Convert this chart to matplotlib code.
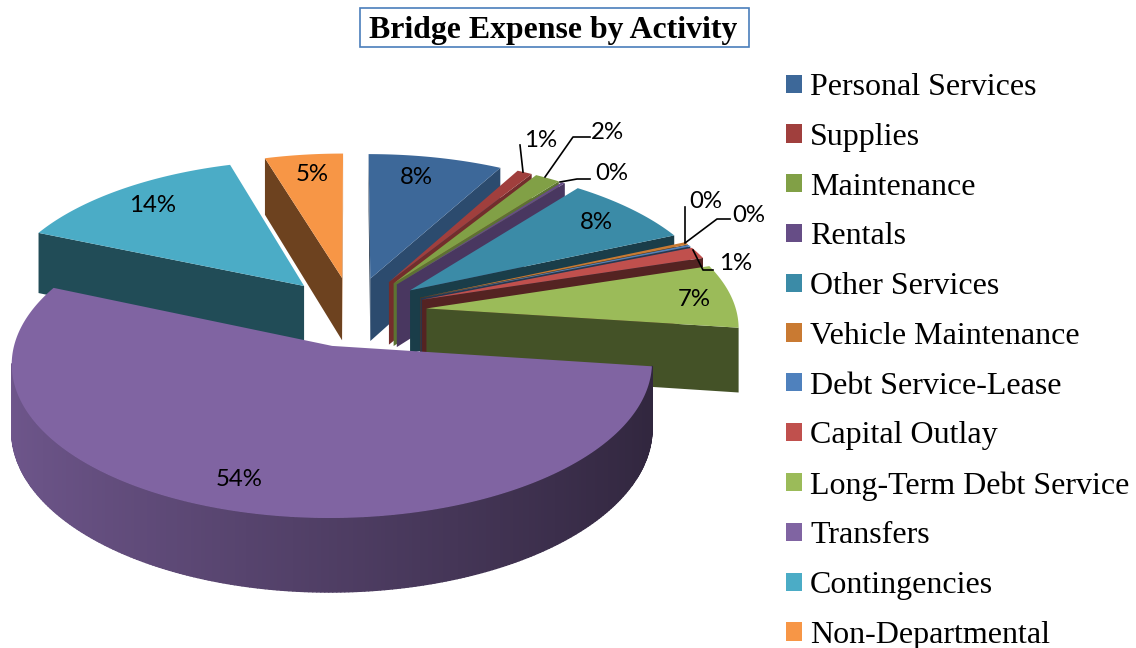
import numpy as np
import matplotlib
matplotlib.use("Agg")
import matplotlib.pyplot as plt
from matplotlib.collections import PolyCollection
from matplotlib.colors import to_rgb
from matplotlib.patches import Patch, Polygon, Rectangle

# Expense share per activity (percent)
activities = [
    "Personal Services", "Supplies", "Maintenance", "Rentals", "Other Services",
    "Vehicle Maintenance", "Debt Service-Lease", "Capital Outlay",
    "Long-Term Debt Service", "Transfers", "Contingencies", "Non-Departmental",
]
shares = [7.9, 0.9, 1.5, 0.2, 7.8, 0.3, 0.2, 1.3, 7.0, 54.4, 13.9, 4.6]
colors = [
    "#3d6899", "#a03f3d", "#81a046", "#664d86", "#3b8ba7", "#c97a32",
    "#4f81bd", "#c0504d", "#9bbb59", "#8064a2", "#4bacc6", "#f79646",
]

# Label centres and leader lines, in figure pixels
label_xy = [
    (416, 177.5), (541, 140.5), (607, 132.5), (612, 173.5), (596, 222.5), (706, 201),
    (748.5, 215.5), (736, 264), (694, 299.5), (239, 480), (153, 205.5), (312, 174.5),
]
leaders = [
    [(520, 145), (523, 172)],
    [(590, 137), (573, 137), (545, 177)],
    [(590, 179), (577, 179), (560, 182)],
    [(685, 207), (685, 242)],
    [(730, 219), (717, 219), (685, 243)],
    [(713, 270), (703, 270), (693, 250)],
]

# Projection of the tilted pie onto the page
CX, CY = 352.5, 311.5
RX, RY = 310, 145
PERSP = 0.11
DEPTH = 64
EXPLODE = 0.24


def project(x, y, z=0.0):
    s = 1 / (1 + PERSP * y)
    return CX + RX * x * s, CY - RY * y * s + DEPTH * z * s


def shaded(color, factor):
    return tuple(c * factor for c in to_rgb(color))


def wall_factor(nx):
    return 0.72 if nx > 0.6 else 0.44


fig = plt.figure(figsize=(11.36, 6.48), dpi=100)
ax = fig.add_axes([0, 0, 1, 1])
ax.set_xlim(0, 1136)
ax.set_ylim(648, 0)
ax.axis("off")

total = sum(shares)
edges = 2 * np.pi * np.concatenate([[0], np.cumsum(shares)]) / total
mids = (edges[:-1] + edges[1:]) / 2

# Painter's order: slices at the back first
for i in sorted(range(len(shares)), key=lambda k: -np.cos(mids[k])):
    t0, t1, col = edges[i], edges[i + 1], colors[i]
    ox, oy = EXPLODE * np.sin(mids[i]), EXPLODE * np.cos(mids[i])
    th = np.linspace(t0, t1, max(3, int((t1 - t0) * 90)))
    rx, ry = ox + np.sin(th), oy + np.cos(th)
    view_y = -1 / PERSP

    # flat walls along the two cut edges
    for t, nx, ny in [
        (t0, -np.cos(t0), np.sin(t0)),
        (t1, np.cos(t1), -np.sin(t1)),
    ]:
        ex, ey = ox + np.sin(t), oy + np.cos(t)
        if nx * (0 - ex) + ny * (view_y - ey) > 0:
            quad = [project(ox, oy), project(ex, ey), project(ex, ey, 1), project(ox, oy, 1)]
            ax.add_patch(Polygon(quad, closed=True, fc=shaded(col, wall_factor(nx)), ec="none"))

    # rim, split in strips so the shade can run along it
    strips, strip_cols = [], []
    for j in range(len(th) - 1):
        tm = (th[j] + th[j + 1]) / 2
        nx, ny = np.sin(tm), np.cos(tm)
        if nx * (0 - (ox + nx)) + ny * (view_y - (oy + ny)) <= 0:
            continue
        strips.append([
            project(rx[j], ry[j]), project(rx[j + 1], ry[j + 1]),
            project(rx[j + 1], ry[j + 1], 1), project(rx[j], ry[j], 1),
        ])
        strip_cols.append(shaded(col, 0.62 - 0.24 * nx))
    if strips:
        ax.add_collection(PolyCollection(strips, facecolors=strip_cols, edgecolors=strip_cols, linewidths=1.0))

    # top face
    top = [project(ox, oy)] + [project(a, b) for a, b in zip(rx, ry)]
    ax.add_patch(Polygon(top, closed=True, fc=col, ec="none"))

for (lx, ly), share in zip(label_xy, shares):
    ax.text(lx, ly, f"{share / total * 100:.0f}%", ha="center", va="center",
            fontsize=17.3, family="Lato", color="black")

for line in leaders:
    ax.plot([p[0] for p in line], [p[1] for p in line], color="black", lw=1.2)

ax.add_patch(Rectangle((360, 8), 389, 39, fc="white", ec="#4a7ebb", lw=1.2))
ax.text(553, 30.5, "Bridge Expense by Activity", ha="center", va="center",
        fontsize=22.9, fontweight="bold", family="Liberation Serif")

handles = [Patch(facecolor=c, edgecolor="none") for c in colors]
ax.legend(handles, activities, loc="upper left", bbox_to_anchor=(786 / 1136, 1 - 73 / 648),
          frameon=False, prop={"family": "Liberation Serif", "size": 23},
          handlelength=0.5, handleheight=0.5, handletextpad=0.25,
          labelspacing=0.65, borderpad=0, borderaxespad=0)

fig.savefig("out.png", dpi=100)
